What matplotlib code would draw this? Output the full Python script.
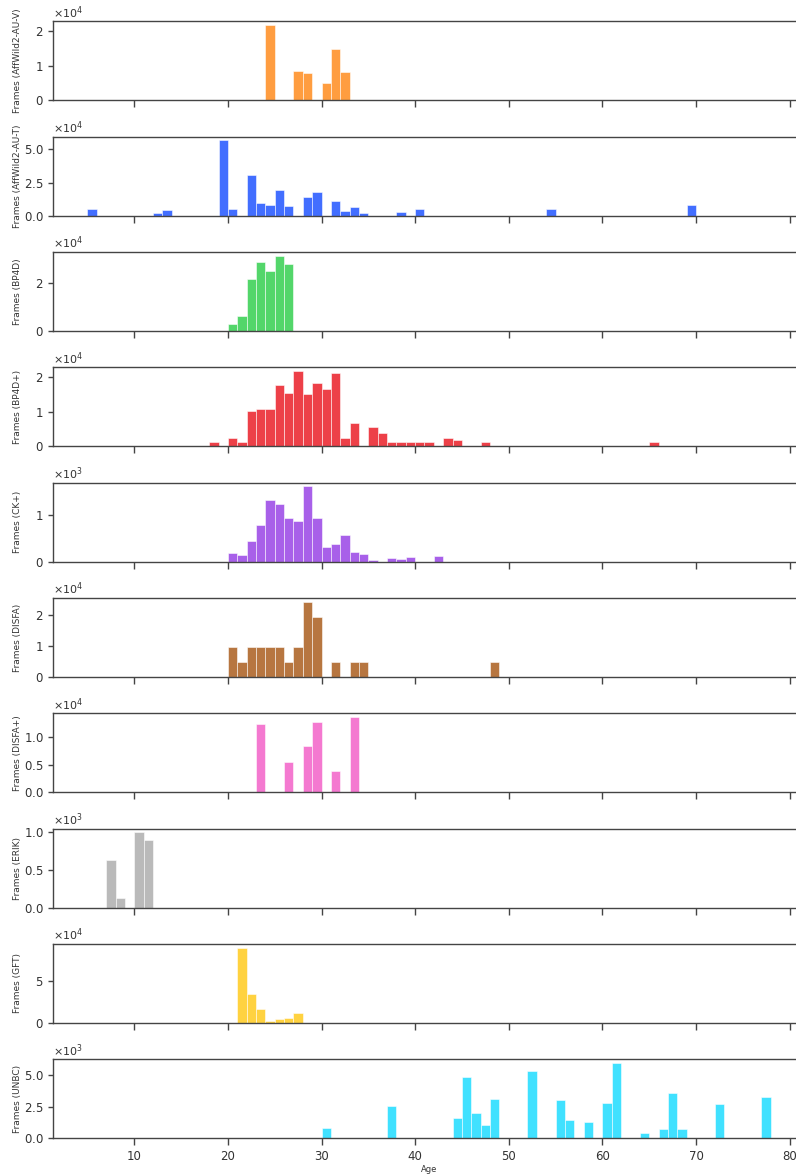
import matplotlib
matplotlib.use('Agg')
import matplotlib.pyplot as plt
from matplotlib.ticker import ScalarFormatter, MultipleLocator

# frames per age bin (bin [age, age+1))
datasets = ['AffWild2-AU-V', 'AffWild2-AU-T', 'BP4D', 'BP4D+', 'CK+',
            'DISFA', 'DISFA+', 'ERIK', 'GFT', 'UNBC']

colors = ['#FF7C00', '#023EFF', '#1AC938', '#E8000B', '#8B2BE2',
          '#9F4800', '#F14CC1', '#A3A3A3', '#FFC400', '#00D7FF']

affv_ages = [24, 27, 28, 30, 31, 32]
affv_frames = [21700, 8500, 7800, 5000, 14800, 8200]

afft_ages = [5, 12, 13, 19, 20, 22, 23, 24, 25, 26, 28, 29, 31, 32, 33, 34, 38, 40, 54, 69]
afft_frames = [4800, 2300, 4600, 56900, 5100, 30900, 9900, 7900, 19400, 6900,
               14000, 18100, 10700, 3300, 6400, 1800, 2600, 5100, 5100, 8200]

bp4d_ages = [20, 21, 22, 23, 24, 25, 26]
bp4d_frames = [3100, 6300, 21800, 28900, 25200, 31700, 28300]

bp4dp_ages = [18, 20, 21, 22, 23, 24, 25, 26, 27, 28, 29, 30, 31, 32, 33,
              35, 36, 37, 38, 39, 40, 41, 43, 44, 47, 65]
bp4dp_frames = [1200, 2400, 1200, 10200, 10800, 10800, 17600, 15400, 21700, 15200,
                18300, 16400, 21000, 2500, 6600, 5700, 3900, 1200, 1200, 1200,
                1200, 1200, 2300, 1700, 1200, 1200]

ck_ages = [20, 21, 22, 23, 24, 25, 26, 27, 28, 29, 30, 31, 32, 33, 34, 35, 37, 38, 39, 42]
ck_frames = [190, 150, 450, 790, 1320, 1240, 930, 880, 1620, 950,
             320, 370, 570, 210, 160, 30, 70, 50, 90, 120]

disfa_ages = [20, 21, 22, 23, 24, 25, 26, 27, 28, 29, 31, 33, 34, 48]
disfa_frames = [9690, 4845, 9690, 9690, 9690, 9690, 4845, 9690, 24225, 19380,
                4845, 4845, 4845, 4845]

disfap_ages = [23, 26, 28, 29, 31, 33]
disfap_frames = [12400, 5500, 8500, 12800, 3900, 13700]

erik_ages = [7, 8, 10, 11]
erik_frames = [630, 130, 1000, 900]

gft_ages = [21, 22, 23, 24, 25, 26, 27]
gft_frames = [90000, 35200, 17200, 2400, 4800, 6400, 11600]

unbc_ages = [30, 37, 44, 45, 46, 47, 48, 52, 55, 56, 58, 60, 61, 64, 66, 67, 68, 72, 77]
unbc_frames = [820, 2550, 1620, 4890, 1990, 1060, 3140, 5350, 3060, 1460,
               1280, 2770, 5960, 450, 740, 3560, 720, 2710, 3300]

all_ages = [affv_ages, afft_ages, bp4d_ages, bp4dp_ages, ck_ages,
            disfa_ages, disfap_ages, erik_ages, gft_ages, unbc_ages]
all_frames = [affv_frames, afft_frames, bp4d_frames, bp4dp_frames, ck_frames,
              disfa_frames, disfap_frames, erik_frames, gft_frames, unbc_frames]

spine_col = '#444444'
text_col = '#333333'

fig, axes = plt.subplots(10, 1, sharex=True, figsize=(7.96, 11.75), dpi=100)
fig.subplots_adjust(left=0.067, right=1.0113, top=0.9819, bottom=0.0312, hspace=0.46)

for ax, name, col, ages, frames in zip(axes, datasets, colors, all_ages, all_frames):
    ax.bar(ages, frames, width=1, align='edge', color=col, alpha=0.75,
           edgecolor='white', linewidth=0.5)
    fmt = ScalarFormatter(useMathText=True)
    fmt.set_powerlimits((0, 0))
    ax.yaxis.set_major_formatter(fmt)
    ax.yaxis.get_offset_text().set_fontsize(8)
    ax.yaxis.get_offset_text().set_color(text_col)
    ax.set_ylabel(f'Frames ({name})', fontsize=6.5, color=text_col)
    ax.yaxis.set_label_coords(-0.042, 0.5)
    for s in ax.spines.values():
        s.set_color(spine_col)
        s.set_linewidth(1.0)
    ax.tick_params(axis='y', length=3.5, width=1, color=spine_col,
                   labelsize=8.5, labelcolor=text_col)
    ax.tick_params(axis='x', length=5, width=1, color=spine_col,
                   labelsize=8.5, labelcolor=text_col)

# the AU-T and UNBC panels use steps of 2.5
axes[1].yaxis.set_major_locator(MultipleLocator(25000))
axes[9].yaxis.set_major_locator(MultipleLocator(2500))

axes[-1].set_xlabel('Age', fontsize=6, color=text_col, labelpad=1)

plt.savefig('out.png', dpi=100)
